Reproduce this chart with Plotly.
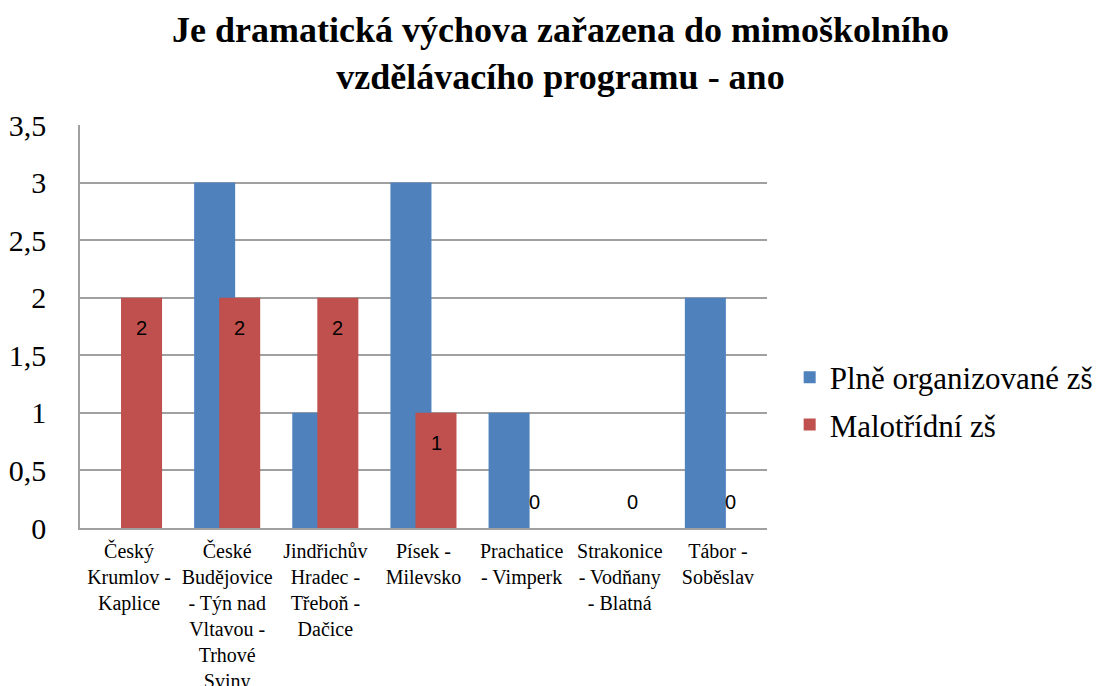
import plotly.graph_objects as go

categories = [
    "Český<br>Krumlov -<br>Kaplice",
    "České<br>Budějovice<br>- Týn nad<br>Vltavou -<br>Trhové<br>Sviny",
    "Jindřichův<br>Hradec -<br>Třeboň -<br>Dačice",
    "Písek -<br>Milevsko",
    "Prachatice<br>- Vimperk",
    "Strakonice<br>- Vodňany<br>- Blatná",
    "Tábor -<br>Soběslav",
]
plne = [0, 3, 1, 3, 1, 0, 2]
malotridni = [2, 2, 2, 1, 0, 0, 0]

serif = "Times New Roman, Liberation Serif, serif"

fig = go.Figure()
fig.add_trace(go.Bar(x=categories, y=plne, name="Plně organizované zš",
                     marker=dict(color="#4F81BD", line=dict(width=0)),
                     width=0.418, offset=-0.337, legendgroup="a"))
fig.add_trace(go.Bar(x=categories, y=malotridni, name="Malotřídní zš",
                     marker=dict(color="#C0504D", line=dict(width=0)),
                     width=0.418, offset=-0.082, legendgroup="b"))

# data labels of the red series
for c, v in zip(categories, malotridni):
    fig.add_annotation(x=c, y=v, text=str(v), showarrow=False,
                       xshift=12.5, yshift=-30 if v > 0 else 26,
                       font=dict(family="Liberation Sans Narrow, Arial Narrow, sans-serif",
                                 size=20, color="black"))

fig.add_annotation(text="<b>Je dramatická výchova zařazena do mimoškolního<br>vzdělávacího programu - ano</b>",
                   xref="paper", yref="paper", x=0.7, y=1.29, xanchor="center", yanchor="top",
                   showarrow=False, font=dict(family=serif, size=36, color="black"))

fig.update_layout(
    width=1098, height=678,
    barmode="overlay",
    separators=", ",
    paper_bgcolor="white", plot_bgcolor="white",
    margin=dict(l=72, r=339, t=117, b=158, autoexpand=False),
    legend=dict(x=1.033, xanchor="left", y=0.315, yanchor="middle",
                font=dict(family=serif, size=31, color="black"),
                traceorder="grouped", tracegroupgap=4),
    showlegend=True,
)
fig.update_yaxes(range=[0, 3.5], dtick=0.5, showgrid=True, gridcolor="#A0A0A0", gridwidth=1.5,
                 showline=True, linecolor="#A0A0A0", linewidth=1.5, zeroline=False,
                 tickfont=dict(family=serif, size=30, color="black"),
                 ticks="", ticklabelstandoff=26, automargin=False)
fig.update_xaxes(showline=True, linecolor="#A0A0A0", linewidth=1.5,
                 tickfont=dict(family=serif, size=20, color="black"),
                 ticks="", tickangle=0, ticklabelstandoff=4, automargin=False)

fig.write_html("out.html")
